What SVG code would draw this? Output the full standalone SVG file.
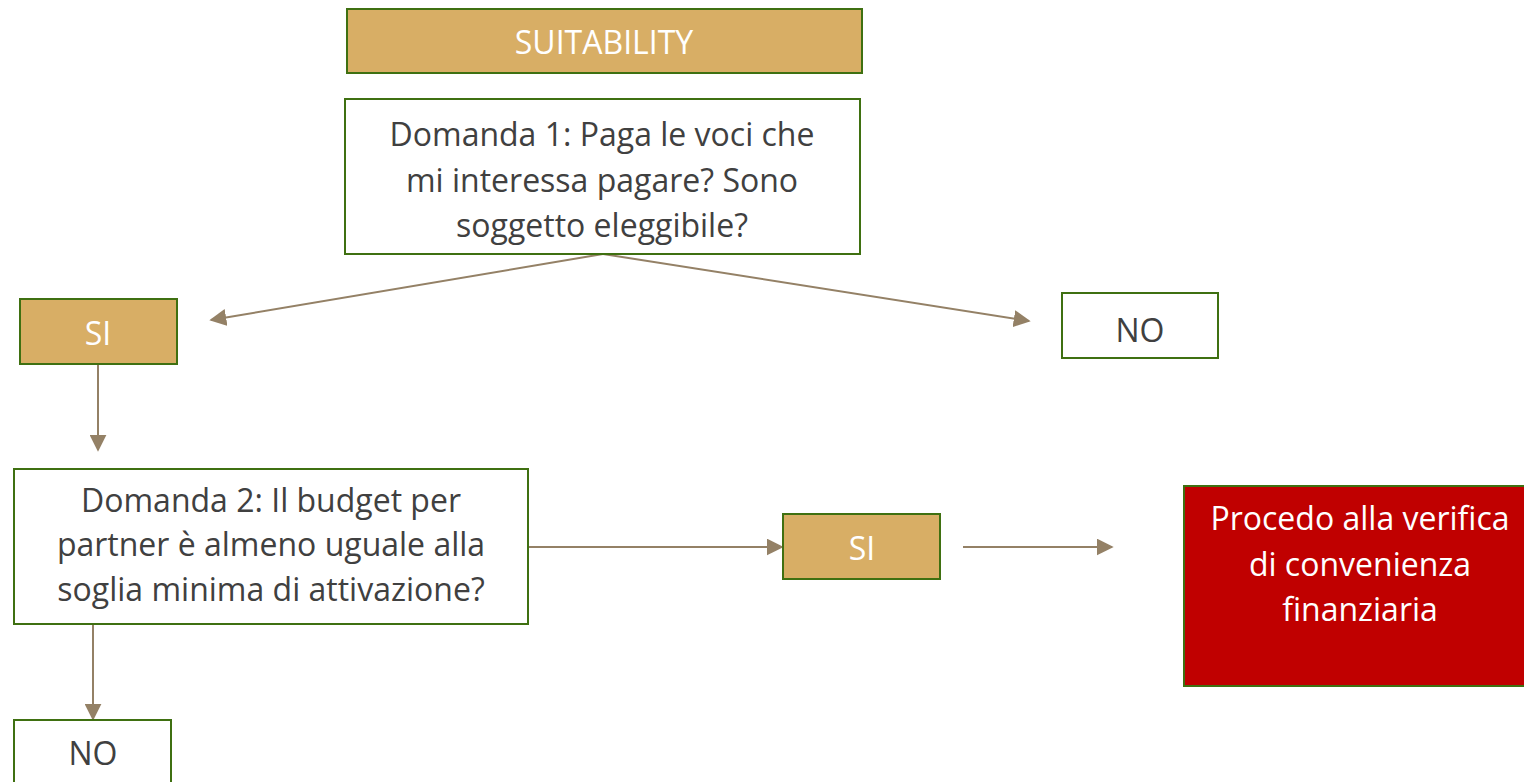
<svg xmlns="http://www.w3.org/2000/svg" width="1524" height="782" viewBox="0 0 1524 782">
<defs>
<style>
.gold{fill:#D8AE65;stroke:#3F7011;stroke-width:2}
.white{fill:#FFFFFF;stroke:#3F7011;stroke-width:2}
.red{fill:#C00000;stroke:#3F7011;stroke-width:2}
.t{font-family:"Open Sans","Noto Sans",sans-serif;text-anchor:middle;font-size:32px}
.lt{fill:#FFFFFF}
.dk{fill:#404040}
.c{stroke:#948166;stroke-width:2;fill:none;marker-end:url(#ah)}
</style>
<marker id="ah" viewBox="0 0 10 10" refX="9" refY="5" markerWidth="8.5" markerHeight="8.5" orient="auto" markerUnits="strokeWidth">
<path d="M0,0 L10,5 L0,10 z" fill="#948166"/>
</marker>
</defs>
<rect width="1524" height="782" fill="#FFFFFF"/>
<g id="connectors">
<path class="c" d="M603,254 L211,320"/>
<path class="c" d="M603,254 L1029,321"/>
<path class="c" d="M98,364 L98,450"/>
<path class="c" d="M528,547 L782,547"/>
<path class="c" d="M963,547 L1112,547"/>
<path class="c" d="M93,624 L93,719"/>
</g>
<g id="suitability">
<rect class="gold" x="347" y="9" width="515" height="64"/>
<text class="t lt" x="604" y="54">SUITABILITY</text>
</g>
<g id="domanda1">
<rect class="white" x="345" y="99" width="515" height="155"/>
<text class="t dk"><tspan x="602" y="146">Domanda 1: Paga le voci che</tspan><tspan x="602" y="192">mi interessa pagare? Sono</tspan><tspan x="602" y="237">soggetto eleggibile?</tspan></text>
</g>
<g id="si1">
<rect class="gold" x="20" y="299" width="157" height="65"/>
<text class="t lt" x="98" y="345">SI</text>
</g>
<g id="no1">
<rect class="white" x="1062" y="293" width="156" height="65"/>
<text class="t dk" x="1140" y="342">NO</text>
</g>
<g id="domanda2">
<rect class="white" x="14" y="469" width="514" height="155"/>
<text class="t dk"><tspan x="271" y="512">Domanda 2:  Il budget per</tspan><tspan x="271" y="556">partner è almeno uguale alla</tspan><tspan x="271" y="601">soglia minima di attivazione?</tspan></text>
</g>
<g id="si2">
<rect class="gold" x="783" y="514" width="157" height="65"/>
<text class="t lt" x="862" y="560">SI</text>
</g>
<g id="verifica">
<rect class="red" x="1184" y="486" width="345" height="200"/>
<text class="t lt"><tspan x="1360" y="530">Procedo alla verifica</tspan><tspan x="1360" y="576">di convenienza</tspan><tspan x="1360" y="621">finanziaria</tspan></text>
</g>
<g id="no2">
<rect class="white" x="14" y="720" width="157" height="70"/>
<text class="t dk" x="93" y="765">NO</text>
</g>
</svg>
